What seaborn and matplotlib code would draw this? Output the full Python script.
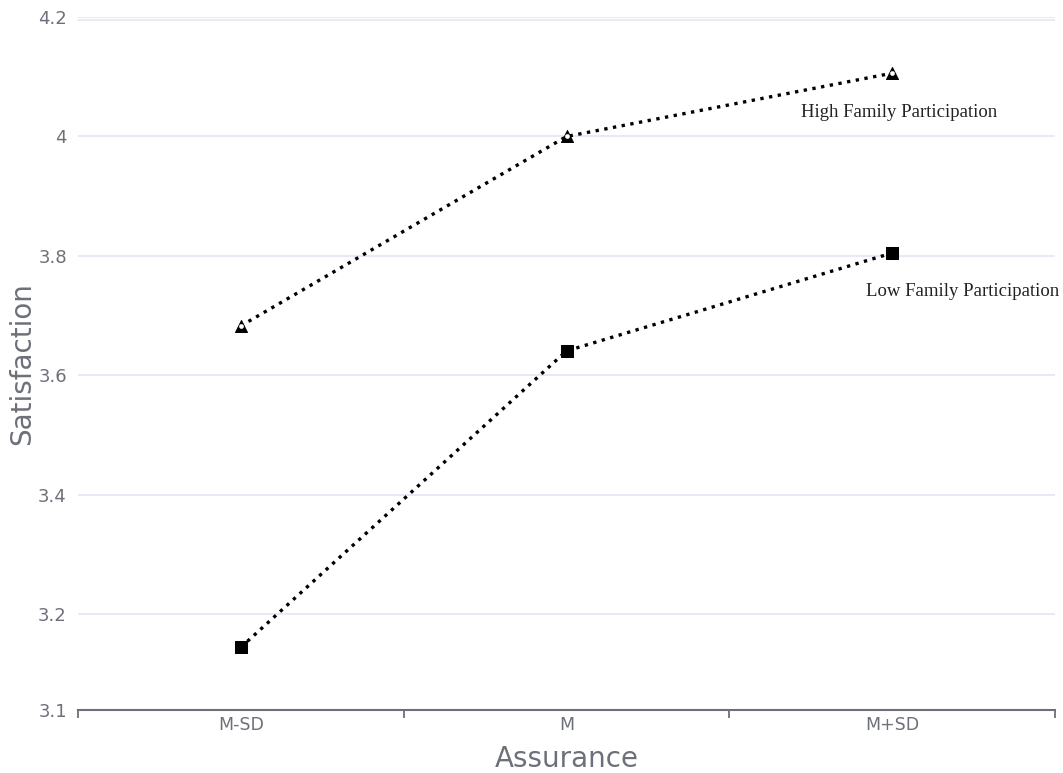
import pandas as pd
import matplotlib.pyplot as plt
import seaborn as sns

# data
levels = ["M-SD", "M", "M+SD"]
high_family = [3.683, 4.0, 4.106]
low_family = [3.145, 3.641, 3.805]
y_ticks = [3.2, 3.4, 3.6, 3.8, 4.0, 4.2]
y_tick_labels = ["3.2", "3.4", "3.6", "3.8", "4", "4.2"]

grey = "#6e7079"
grid_col = "#e0e6f1"

sns.set_theme(style="white")
plt.rcParams["font.family"] = ["DejaVu Sans"]

fig = plt.figure(figsize=(10.63, 7.73), dpi=100)
ax = fig.add_axes([0.0734, 0.0815, 0.9191, 0.8965])

df_high = pd.DataFrame({"x": range(len(levels)), "y": high_family})
df_low = pd.DataFrame({"x": range(len(levels)), "y": low_family})

# lines
sns.lineplot(data=df_high, x="x", y="y", ax=ax, color="black",
             linestyle=":", linewidth=2.4, zorder=3)
sns.lineplot(data=df_low, x="x", y="y", ax=ax, color="black",
             linestyle=":", linewidth=2.4, zorder=3)

# markers
sns.scatterplot(data=df_high, x="x", y="y", ax=ax, marker="^", s=75,
                color="black", edgecolor="black", zorder=4)
sns.scatterplot(data=df_high, x="x", y="y", ax=ax, marker="o", s=10,
                color="white", edgecolor="white", zorder=5)
sns.scatterplot(data=df_low, x="x", y="y", ax=ax, marker="s", s=85,
                color="black", edgecolor="black", zorder=4)

# axes
y_bottom = 3.04
ax.set_xlim(-0.5, 2.5)
ax.set_ylim(y_bottom, 4.2)

for v in y_ticks:
    ax.axhline(v, color=grid_col, linewidth=1.2, zorder=1)
ax.axhline(4.2 - 0.005, color=grid_col, linewidth=1.2, zorder=1)

ax.set_yticks([y_bottom] + y_ticks)
ax.set_yticklabels(["3.1"] + y_tick_labels)
ax.set_xticks(range(len(levels)))
ax.set_xticklabels(levels)
ax.set_xticks([-0.5, 0.5, 1.5, 2.5], minor=True)

ax.tick_params(axis="y", which="both", length=0, pad=8, labelsize=13,
               labelcolor=grey)
ax.tick_params(axis="x", which="major", length=0, pad=4, labelsize=12.5,
               labelcolor=grey)
ax.tick_params(axis="x", which="minor", length=6, width=1.3, color=grey,
               direction="out", bottom=True)

for side in ["top", "right", "left"]:
    ax.spines[side].set_visible(False)
ax.spines["bottom"].set_color(grey)
ax.spines["bottom"].set_linewidth(1.5)

ax.set_xlabel("Assurance", fontsize=20, color=grey, labelpad=8)
ax.set_ylabel("Satisfaction", fontsize=20, color=grey, va="center")
ax.yaxis.set_label_coords(-0.057, 0.5)

# series labels
ax.text(1.72, 4.04, "High Family Participation", fontsize=13.5,
        family="Liberation Serif", color="#222222", va="center")
ax.text(1.92, 3.74, "Low Family Participation", fontsize=13.5,
        family="Liberation Serif", color="#222222", va="center")

plt.savefig("out.png", dpi=100)
